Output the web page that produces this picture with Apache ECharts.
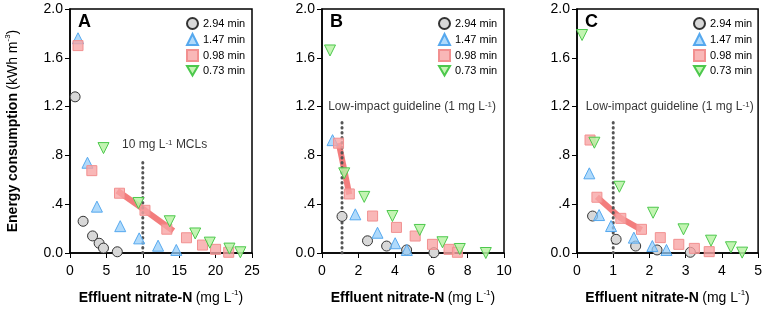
<!DOCTYPE html>
<html>
<head>
<meta charset="utf-8">
<script src="https://cdn.jsdelivr.net/npm/echarts@6/dist/echarts.min.js"></script>
<style>
html,body{margin:0;padding:0;background:#fff;}
#myChart{width:765px;height:313px;}
</style>
</head>
<body>
<div id="myChart"></div>
<script>
// series names
var seriesNames = ['2.94 min', '1.47 min', '0.98 min', '0.73 min'];
var panelLetters = ['A', 'B', 'C'];
var xMax = [25, 10, 5];
var xStep = [5, 2, 1];
var yTicks = [0, 0.4, 0.8, 1.2, 1.6, 2.0];
var yTickLabels = ['0.0', '.4', '.8', '1.2', '1.6', '2.0'];

// panel A
var a_294 = [[0.7, 1.28], [1.8, 0.26], [3.1, 0.14], [4.0, 0.08], [4.6, 0.04], [6.5, 0.01]];
var a_147 = [[1.1, 1.76], [2.4, 0.74], [3.7, 0.38], [6.9, 0.22], [9.5, 0.12], [12.1, 0.06], [14.6, 0.025]];
var a_098 = [[1.1, 1.70], [3.0, 0.675], [6.8, 0.49], [10.3, 0.35], [13.3, 0.195], [16.0, 0.125], [18.2, 0.065], [20.0, 0.03], [21.8, 0.006]];
var a_073 = [[4.6, 0.86], [9.4, 0.41], [13.7, 0.26], [17.2, 0.16], [19.2, 0.085], [21.9, 0.036], [23.4, 0.006]];
var a_fit = [[6.5, 0.51], [10.3, 0.35], [14.2, 0.18]];
var a_guide = [[10, 0], [10, 0.76]];
var a_note = [[13, 0.89]];

// panel B
var b_294 = [[1.1, 0.30], [2.5, 0.10], [3.55, 0.057], [4.65, 0.025], [6.15, 0.003]];
var b_147 = [[0.58, 0.925], [1.83, 0.317], [3.05, 0.166], [4.02, 0.08], [4.66, 0.025]];
var b_098 = [[0.91, 0.90], [1.5, 0.484], [2.78, 0.303], [4.09, 0.21], [5.12, 0.139], [6.07, 0.071], [6.98, 0.03], [7.44, 0.006]];
var b_073 = [[0.44, 1.66], [1.22, 0.653], [2.32, 0.46], [3.87, 0.303], [5.37, 0.189], [6.62, 0.088], [7.57, 0.033], [9.0, 0.0]];
var b_fit = [[0.92, 0.90], [1.5, 0.48]];
var b_guide = [[1.1, 0], [1.1, 1.1]];
var b_note = [[4.95, 1.2]];

// panel C
var c_294 = [[0.43, 0.303], [1.08, 0.112], [1.62, 0.057], [2.21, 0.025], [3.13, 0.006]];
var c_147 = [[0.34, 0.653], [0.61, 0.311], [0.94, 0.221], [1.57, 0.126], [2.08, 0.057], [2.47, 0.025]];
var c_098 = [[0.36, 0.926], [0.55, 0.457], [1.21, 0.284], [1.78, 0.194], [2.30, 0.126], [2.81, 0.071], [3.24, 0.038], [3.65, 0.011]];
var c_073 = [[0.14, 1.787], [0.48, 0.904], [1.17, 0.543], [2.10, 0.33], [2.94, 0.194], [3.70, 0.101], [4.25, 0.047], [4.56, 0.003]];
var c_fit = [[0.55, 0.46], [1.21, 0.285], [1.78, 0.19]];
var c_guide = [[1, 0], [1, 1.1]];
var c_note = [[2.56, 1.2]];

var notes = ['10 mg L{sup|-1} MCLs', 'Low-impact guideline (1 mg L{sup|-1})', 'Low-impact guideline (1 mg L{sup|-1})'];
var panels = [
	[a_294, a_147, a_098, a_073, a_fit, a_guide, a_note],
	[b_294, b_147, b_098, b_073, b_fit, b_guide, b_note],
	[c_294, c_147, c_098, c_073, c_fit, c_guide, c_note]
];

var font = 'Liberation Sans, Arial, sans-serif';
var gridLeft = [70, 322, 577];
var invTri = 'path://M0,0 L10,0 L5,8.66 Z';
var markStyle = [
	{symbol: 'circle', size: 10, color: '#d8d8d8', border: '#333333'},
	{symbol: 'triangle', size: 11, color: 'rgba(150,205,250,0.75)', border: '#55a8ee'},
	{symbol: 'rect', size: 10, color: 'rgba(248,165,165,0.8)', border: '#f29090'},
	{symbol: invTri, size: 11, color: 'rgba(185,242,165,0.85)', border: '#4cc84c'}
];
var supRich = {
	sup: {fontSize: 8, fontFamily: font, color: '#000', verticalAlign: 'top', lineHeight: 8},
	b: {fontSize: 14, fontWeight: 'bold', fontFamily: font, color: '#000', lineHeight: 18},
	n: {fontSize: 14, fontFamily: font, color: '#000', lineHeight: 18}
};

var myChart = echarts.init(document.getElementById('myChart'));
var grids = [], xAxes = [], yAxes = [], series = [], legends = [], graphics = [];

var $each = function(arr, fn) { for (var i = 0; i < arr.length; i++) fn(i, arr[i]); };

$each(panels, function(p, data) {
	grids.push({left: gridLeft[p], top: 9, width: 182, height: 244, show: true, borderColor: '#000', borderWidth: 1.5});
	xAxes.push({
		gridIndex: p, type: 'value', min: 0, max: xMax[p], interval: xStep[p],
		splitLine: {show: false},
		axisLine: {lineStyle: {color: '#000', width: 1.5}},
		axisTick: {length: 5, lineStyle: {color: '#000'}},
		axisLabel: {color: '#000', fontSize: 14, fontFamily: font, margin: 11},
		name: '{b|Effluent nitrate-N} {n|(mg L}{sup|-1}{n|)}',
		nameLocation: 'middle', nameGap: 36,
		nameTextStyle: {rich: supRich}
	});
	var y = {
		gridIndex: p, type: 'value', min: 0, max: 2, interval: 0.4,
		splitLine: {show: false},
		axisLine: {lineStyle: {color: '#000', width: 1.5}},
		axisTick: {length: 5, lineStyle: {color: '#000'}},
		axisLabel: {color: '#000', fontSize: 14, fontFamily: font, margin: 7,
			formatter: function(v) {
				for (var k = 0; k < yTicks.length; k++) if (Math.abs(yTicks[k] - v) < 1e-6) return yTickLabels[k];
				return '';
			}}
	};
	if (p == 0) {
		y.name = '{b|Energy consumption} {n|(kWh m}{sup|-3}{n|)}';
		y.nameLocation = 'middle';
		y.nameGap = 48;
		y.nameTextStyle = {rich: supRich};
	}
	yAxes.push(y);

	// fit line under points
	series.push({
		type: 'line', xAxisIndex: p, yAxisIndex: p, data: data[4], showSymbol: false, silent: true,
		lineStyle: {color: '#f26f6f', width: 6, opacity: 0.9}, z: 1
	});
	// guideline
	series.push({
		type: 'line', xAxisIndex: p, yAxisIndex: p, data: data[5], showSymbol: false, silent: true,
		lineStyle: {color: '#555', width: 3, type: [0.5, 4.5], cap: 'round'}, z: 1
	});
	// note text
	series.push({
		type: 'scatter', xAxisIndex: p, yAxisIndex: p, data: data[6], symbolSize: 0, silent: true,
		label: {show: true, position: 'inside', formatter: notes[p],
			fontSize: 12, fontFamily: font, color: '#000', rich: {sup: {fontSize: 8, fontFamily: font, verticalAlign: 'top', lineHeight: 8}}}
	});
	$each(seriesNames, function(s, nm) {
		series.push({
			name: nm, type: 'scatter', xAxisIndex: p, yAxisIndex: p, data: data[s],
			symbol: markStyle[s].symbol, symbolSize: markStyle[s].size,
			itemStyle: {color: markStyle[s].color, borderColor: markStyle[s].border, borderWidth: 1, opacity: 1},
			z: 2 + s
		});
	});
	legends.push({
		data: seriesNames, orient: 'vertical', left: gridLeft[p] + 111, top: 12,
		itemWidth: 11, itemHeight: 11, itemGap: 3,
		textStyle: {fontSize: 11, fontFamily: font, color: '#000'}
	});
	graphics.push({
		type: 'text', left: gridLeft[p] + 8, top: 13,
		style: {text: panelLetters[p], font: 'bold 18px ' + font, fill: '#000'}
	});
});

myChart.setOption({
	animation: false,
	grid: grids,
	xAxis: xAxes,
	yAxis: yAxes,
	legend: legends,
	graphic: graphics,
	series: series
});
</script>
</body>
</html>
